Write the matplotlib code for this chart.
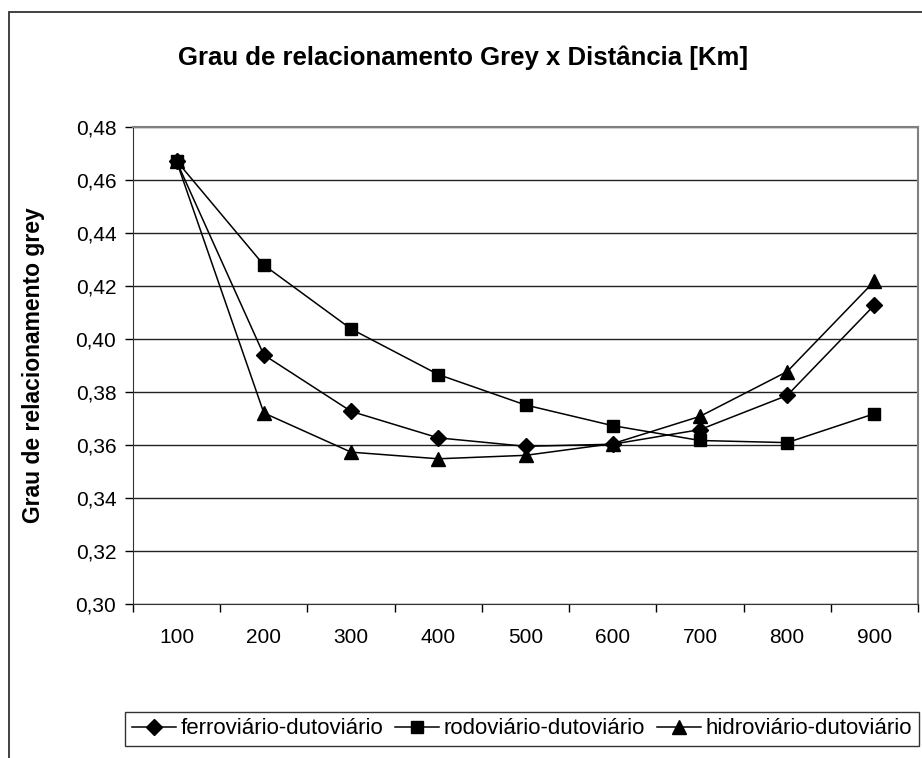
import matplotlib
matplotlib.use('Agg')
import matplotlib.pyplot as plt
from matplotlib.patches import Rectangle

plt.rcParams['font.family'] = ['Liberation Sans', 'DejaVu Sans']

distancias = ['100', '200', '300', '400', '500', '600', '700', '800', '900']
ferroviario = [0.467, 0.394, 0.3727, 0.3627, 0.3595, 0.3603, 0.3658, 0.3787, 0.4128]
rodoviario = [0.4672, 0.4279, 0.4038, 0.3866, 0.3751, 0.3673, 0.3617, 0.3609, 0.3718]
hidroviario = [0.467, 0.3721, 0.3573, 0.3548, 0.3561, 0.3605, 0.3708, 0.3877, 0.4218]
yticks = [0.30, 0.32, 0.34, 0.36, 0.38, 0.40, 0.42, 0.44, 0.46, 0.48]
ytick_labels = ['0,30', '0,32', '0,34', '0,36', '0,38', '0,40', '0,42', '0,44', '0,46', '0,48']

fig = plt.figure(figsize=(9.22, 7.58), dpi=100)
ax = fig.add_axes([133/922, 1-604/758, 785/922, 477/758])

# moldura externa do gráfico
fig.patches.append(Rectangle((9/922, -0.1), 1.2, 1.1 - 12/758, transform=fig.transFigure,
                             fill=False, edgecolor='#333333', lw=1.3))

x = range(len(distancias))
ax.plot(x, ferroviario, 'k-', marker='D', ms=8, lw=1.1, label='ferroviário-dutoviário')
ax.plot(x, rodoviario, 'k-', marker='s', ms=8, lw=1.1, label='rodoviário-dutoviário')
ax.plot(x, hidroviario, 'k-', marker='^', ms=10, lw=1.1, label='hidroviário-dutoviário')

ax.set_xlim(-0.5, 8.5)
ax.set_ylim(0.30, 0.48)
ax.set_yticks(yticks)
ax.set_yticklabels(ytick_labels, fontsize=15)
ax.set_xticks(list(x))
ax.set_xticklabels(distancias, fontsize=15)
ax.set_xticks([i - 0.5 for i in range(len(distancias) + 1)], minor=True)
ax.tick_params(axis='x', which='major', length=0, pad=17)
ax.tick_params(axis='x', which='minor', length=6, width=1, direction='out')
ax.tick_params(axis='y', length=6, width=1, pad=6)
ax.grid(True, axis='y', color='#222222', lw=1)
ax.set_axisbelow(True)
for s in ['top', 'right']:
    ax.spines[s].set_color('#808080')
    ax.spines[s].set_linewidth(1.5)
ax.spines['left'].set_color('#333333')
ax.spines['bottom'].set_color('#333333')

ax.set_ylabel('Grau de relacionamento grey', fontsize=16.5, fontweight='bold', labelpad=22)
fig.text(463/922, 1-58/758, 'Grau de relacionamento Grey x Distância [Km]',
         fontsize=18.5, fontweight='bold', ha='center', va='center')

leg = fig.legend(loc='center', ncol=3, mode='expand',
                 bbox_to_anchor=(125/922, 1-749/758, 794/922, 40/758),
                 fontsize=16, frameon=True, fancybox=False, edgecolor='black',
                 handlelength=2.0, handletextpad=0.2, columnspacing=0.8, borderaxespad=0,
                 borderpad=0.3)
leg.get_frame().set_linewidth(1)

fig.savefig('out.png', dpi=100)
